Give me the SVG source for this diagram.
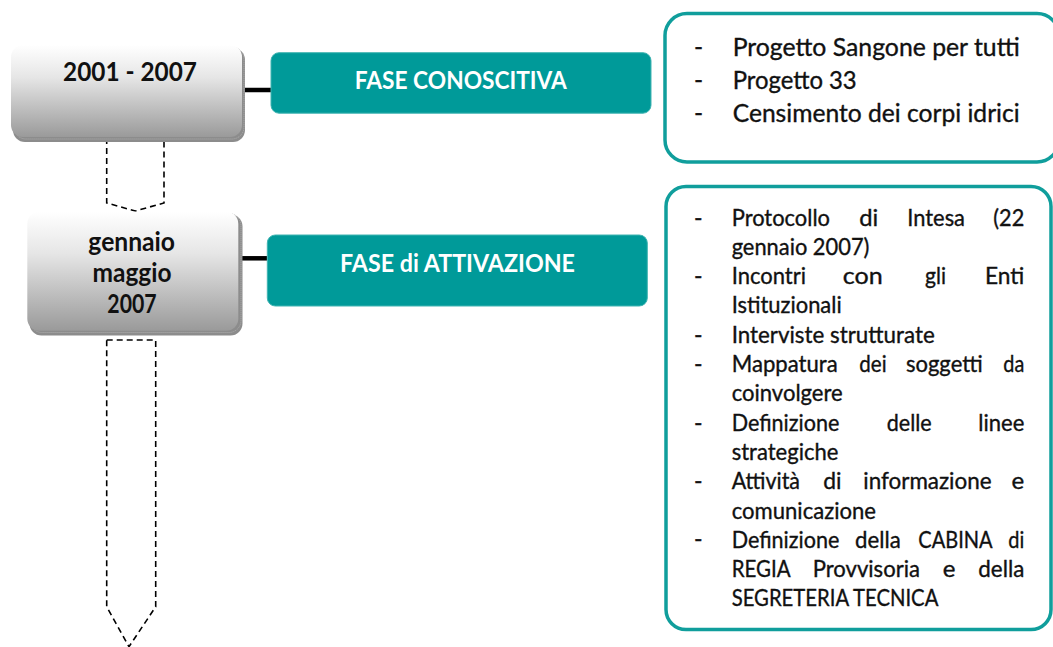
<svg xmlns="http://www.w3.org/2000/svg" width="1053" height="647" viewBox="0 0 1053 647">
  <defs>
    <linearGradient id="gray" x1="0" y1="0" x2="0" y2="1">
      <stop offset="0" stop-color="#ffffff"/>
      <stop offset="0.35" stop-color="#e6e6e6"/>
      <stop offset="1" stop-color="#9a9a9a"/>
    </linearGradient>
    <style>
      .date { font-family: Lato, "Liberation Sans", sans-serif; font-weight: bold; font-size: 27px; fill: #111; text-anchor: middle; }
      .phase { font-family: Lato, "Liberation Sans", sans-serif; font-weight: bold; font-size: 25px; fill: #ffffff; text-anchor: middle; }
      .item { font-family: Lato, "Liberation Sans", sans-serif; font-size: 23px; fill: #111; stroke: #111; stroke-width: 0.35; }
      .item1 { font-family: Lato, "Liberation Sans", sans-serif; font-size: 24.5px; fill: #111; stroke: #111; stroke-width: 0.35; }
      .end { text-anchor: end; }
      .teal { fill: #009a99; stroke: #40b4b2; stroke-width: 1; }
      .list { fill: #ffffff; stroke: #109e9c; stroke-width: 3.5; }
      .shadow { fill: #8c8c8c; }
      .shadow2 { fill: none; stroke: #b0b0b0; stroke-width: 1; stroke-dasharray: 1 1; }
      .arrow { fill: none; stroke: #000; stroke-width: 1.6; stroke-dasharray: 6 4; }
      .link { stroke: #000; stroke-width: 4.5; }
    </style>
  </defs>

  <g id="connectors">
    <path class="arrow" d="M106.7,138 L106.7,203 L135.3,211 L164,203 L164,138"/>
    <path class="arrow" d="M106.7,340 L155.7,340 L155.7,606.7 L129,646.7 L106.7,606.7 Z"/>
    <line class="link" x1="242" y1="90" x2="271" y2="90"/>
    <line class="link" x1="237" y1="258.3" x2="267" y2="258.3"/>
  </g>

  <g id="date1">
    <rect class="shadow" x="13" y="48" width="232" height="94" rx="12"/>
    <rect class="shadow2" x="14" y="47" width="230" height="92" rx="12"/>
    <rect x="11" y="45" width="231" height="92" rx="12" fill="url(#gray)"/>
    <text class="date" x="130" y="80.5" textLength="134" lengthAdjust="spacingAndGlyphs">2001 - 2007</text>
  </g>

  <g id="date2">
    <rect class="shadow" x="29.5" y="214.5" width="213" height="121" rx="12"/>
    <rect class="shadow2" x="30" y="213.5" width="211" height="119" rx="12"/>
    <rect x="27.3" y="211.7" width="211" height="119" rx="12" fill="url(#gray)"/>
    <text class="date" x="131.7" y="250.5" textLength="86.7" lengthAdjust="spacingAndGlyphs">gennaio</text>
    <text class="date" x="132" y="282" textLength="79" lengthAdjust="spacingAndGlyphs">maggio</text>
    <text class="date" x="132" y="313" textLength="49.3" lengthAdjust="spacingAndGlyphs">2007</text>
  </g>

  <g id="phase1">
    <rect class="teal" x="271" y="52.7" width="380" height="60.5" rx="8"/>
    <text class="phase" x="460.8" y="88.5" textLength="212" lengthAdjust="spacingAndGlyphs">FASE CONOSCITIVA</text>
  </g>

  <g id="phase2">
    <rect class="teal" x="267.3" y="235" width="380" height="71" rx="8"/>
    <text class="phase" x="457.5" y="271.5" textLength="235" lengthAdjust="spacingAndGlyphs">FASE di ATTIVAZIONE</text>
  </g>

  <g id="list1">
    <rect class="list" x="665" y="13.5" width="394" height="148.5" rx="22"/>
    <text class="item1" x="694" y="55.5">-</text>
    <text class="item1" x="694" y="89">-</text>
    <text class="item1" x="694" y="122">-</text>
    <text class="item1" x="732.7" y="55.5" textLength="287" lengthAdjust="spacingAndGlyphs">Progetto Sangone per tutti</text>
    <text class="item1" x="732.7" y="89" textLength="124" lengthAdjust="spacingAndGlyphs">Progetto 33</text>
    <text class="item1" x="732.7" y="122" textLength="287" lengthAdjust="spacingAndGlyphs">Censimento dei corpi idrici</text>
  </g>

  <g id="list2">
    <rect class="list" x="666" y="186.5" width="385" height="443" rx="20"/>
    <g class="item">
      <text x="694" y="225.5">-</text>
      <text x="694" y="284.1">-</text>
      <text x="694" y="342.7">-</text>
      <text x="694" y="372">-</text>
      <text x="694" y="430.6">-</text>
      <text x="694" y="489.2">-</text>
      <text x="694" y="546.5">-</text>
    </g>
    <g class="item">
      <text x="731.7" y="225.5" textLength="98.3" lengthAdjust="spacingAndGlyphs">Protocollo</text>
      <text x="859.3" y="225.5" textLength="19" lengthAdjust="spacingAndGlyphs">di</text>
      <text x="907.3" y="225.5" textLength="57.7" lengthAdjust="spacingAndGlyphs">Intesa</text>
      <text x="993.3" y="225.5" textLength="31" lengthAdjust="spacingAndGlyphs">(22</text>

      <text x="731.7" y="254.8" textLength="137.7" lengthAdjust="spacingAndGlyphs">gennaio 2007)</text>

      <text x="731.7" y="284.1" textLength="74.3" lengthAdjust="spacingAndGlyphs">Incontri</text>
      <text x="842.7" y="284.1" textLength="40" lengthAdjust="spacingAndGlyphs">con</text>
      <text x="925" y="284.1" textLength="21" lengthAdjust="spacingAndGlyphs">gli</text>
      <text x="985" y="284.1" textLength="39.3" lengthAdjust="spacingAndGlyphs">Enti</text>

      <text x="731.7" y="313.4" textLength="110" lengthAdjust="spacingAndGlyphs">Istituzionali</text>

      <text x="731.7" y="342.7" textLength="203" lengthAdjust="spacingAndGlyphs">Interviste strutturate</text>

      <text x="731.7" y="372" textLength="106" lengthAdjust="spacingAndGlyphs">Mappatura</text>
      <text x="859.3" y="372" textLength="27.3" lengthAdjust="spacingAndGlyphs">dei</text>
      <text x="906" y="372" textLength="76.7" lengthAdjust="spacingAndGlyphs">soggetti</text>
      <text x="1003.3" y="372" textLength="21" lengthAdjust="spacingAndGlyphs">da</text>

      <text x="731.7" y="401.3" textLength="111" lengthAdjust="spacingAndGlyphs">coinvolgere</text>

      <text x="731.7" y="430.6" textLength="107.7" lengthAdjust="spacingAndGlyphs">Definizione</text>
      <text x="886.7" y="430.6" textLength="45" lengthAdjust="spacingAndGlyphs">delle</text>
      <text x="978.3" y="430.6" textLength="46" lengthAdjust="spacingAndGlyphs">linee</text>

      <text x="731.7" y="459.9" textLength="106.7" lengthAdjust="spacingAndGlyphs">strategiche</text>

      <text x="731.7" y="489.2" textLength="68.3" lengthAdjust="spacingAndGlyphs">Attività</text>
      <text x="823.3" y="489.2" textLength="18.3" lengthAdjust="spacingAndGlyphs">di</text>
      <text x="863.3" y="489.2" textLength="128.3" lengthAdjust="spacingAndGlyphs">informazione</text>
      <text x="1011.6" y="489.2" textLength="12.7" lengthAdjust="spacingAndGlyphs">e</text>

      <text x="731.7" y="518.5" textLength="144.3" lengthAdjust="spacingAndGlyphs">comunicazione</text>

      <text x="731.7" y="547.8" textLength="107.7" lengthAdjust="spacingAndGlyphs">Definizione</text>
      <text x="855" y="547.8" textLength="45.7" lengthAdjust="spacingAndGlyphs">della</text>
      <text x="918.3" y="547.8" textLength="74.3" lengthAdjust="spacingAndGlyphs">CABINA</text>
      <text x="1008.3" y="547.8" textLength="16" lengthAdjust="spacingAndGlyphs">di</text>

      <text x="731.7" y="577.1" textLength="59" lengthAdjust="spacingAndGlyphs">REGIA</text>
      <text x="812.7" y="577.1" textLength="107.3" lengthAdjust="spacingAndGlyphs">Provvisoria</text>
      <text x="942.7" y="577.1" textLength="12.7" lengthAdjust="spacingAndGlyphs">e</text>
      <text x="978.3" y="577.1" textLength="46" lengthAdjust="spacingAndGlyphs">della</text>

      <text x="731.7" y="606.4" textLength="206.7" lengthAdjust="spacingAndGlyphs">SEGRETERIA TECNICA</text>
    </g>
  </g>
</svg>
